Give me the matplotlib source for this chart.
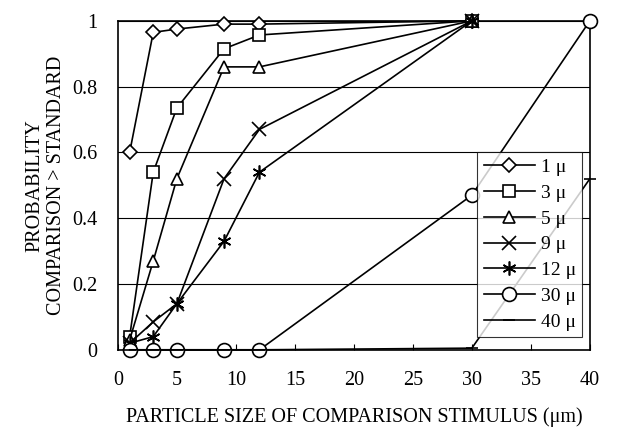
import matplotlib
matplotlib.use("Agg")
import matplotlib.pyplot as plt

plt.rcParams['font.family'] = ['Liberation Serif', 'DejaVu Serif']

# comparison particle sizes (um)
sizes = [1, 3, 5, 9, 12, 30, 40]

# probability comparison > standard, per standard size
p1 = [0.60, 0.965, 0.975, 0.99, 0.99, 1.0, None]
p3 = [0.04, 0.54, 0.735, 0.915, 0.957, 1.0, None]
p5 = [0.03, 0.27, 0.52, 0.86, 0.86, 1.0, None]
p9 = [0.02, 0.085, 0.14, 0.52, 0.67, 1.0, None]
p12 = [0.02, 0.04, 0.14, 0.33, 0.54, 1.0, None]
p30 = [0.0, 0.0, 0.0, 0.0, 0.0, 0.47, 1.0]
p40 = [0.0, 0.0, 0.0, 0.0, 0.0, 0.005, 0.52]

series = [
    ('1 \u03bc', p1, 'D', 7),
    ('3 \u03bc', p3, 's', 9),
    ('5 \u03bc', p5, '^', 9),
    ('9 \u03bc', p9, 'x', 10),
    ('12 \u03bc', p12, (6, 2, 0), 10),
    ('30 \u03bc', p30, 'o', 10),
    ('40 \u03bc', p40, '_', 8),
]

fig = plt.figure(figsize=(6.17, 4.34), dpi=100)
ax = fig.add_axes([0.191, 0.194, 0.765, 0.758])

for label, vals, mk, ms in series:
    xs = [x for x, v in zip(sizes, vals) if v is not None]
    ys = [v for v in vals if v is not None]
    ax.plot(xs, ys, color='black', lw=1.2, marker=mk, markersize=ms,
            markerfacecolor='white', markeredgecolor='black',
            markeredgewidth=1.2, label=label, clip_on=False, zorder=3)

ax.set_xlim(0, 40)
ax.set_ylim(0, 1)
ax.set_xticks(range(0, 41, 5))
ax.set_yticks([0, 0.2, 0.4, 0.6, 0.8, 1.0])
ax.set_yticklabels(['0', '0.2', '0.4', '0.6', '0.8', '1'])
ax.yaxis.grid(True, color='black', lw=0.8)
ax.set_axisbelow(True)
ax.tick_params(axis='x', direction='in', length=4, labelsize=14.5, pad=15)
ax.tick_params(axis='y', length=0, labelsize=14.5, pad=15)
for s in ax.spines.values():
    s.set_linewidth(1.2)

ax.set_xlabel('PARTICLE SIZE OF COMPARISON STIMULUS (\u03bcm)', fontsize=14.5, labelpad=13)
ax.set_ylabel('PROBABILITY\nCOMPARISON > STANDARD', fontsize=14.5, labelpad=4)

leg = ax.legend(loc='lower right', bbox_to_anchor=(1.005, 0.008), fontsize=14,
                frameon=True, fancybox=False, edgecolor='black',
                handlelength=2.6, labelspacing=0.42, borderpad=0.35,
                handletextpad=0.3)
leg.get_frame().set_linewidth(0.8)
leg.set_zorder(5)

fig.savefig('out.png', dpi=100)
